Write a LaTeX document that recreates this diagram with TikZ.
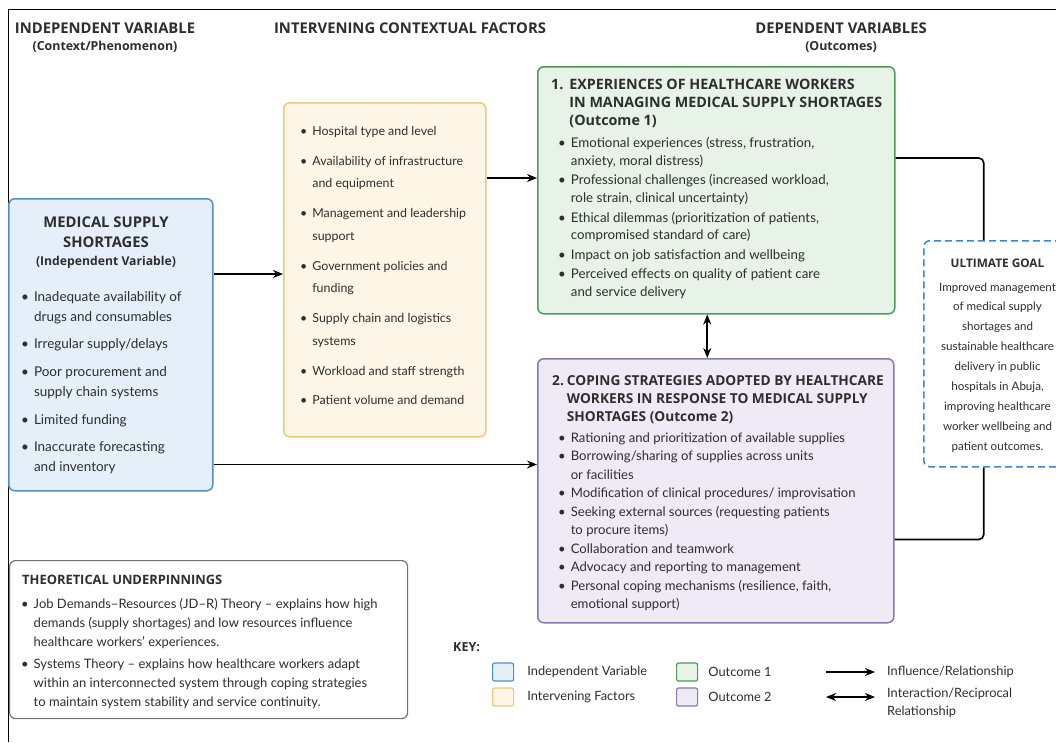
\documentclass[tikz,border=0pt]{standalone}
\usepackage{fontspec}
\setmainfont{Lato}
\newfontfamily\headfont{Open Sans}
\usetikzlibrary{arrows.meta}

\definecolor{ivfill}{HTML}{E4EFF9}
\definecolor{ivline}{HTML}{4F8FCB}
\definecolor{facfill}{HTML}{FDF6E7}
\definecolor{facline}{HTML}{EBC978}
\definecolor{onefill}{HTML}{E7F3E7}
\definecolor{oneline}{HTML}{4C9A5C}
\definecolor{twofill}{HTML}{EFEBF6}
\definecolor{twoline}{HTML}{8C76AE}
\definecolor{goalline}{HTML}{3D88C8}
\definecolor{txt}{HTML}{2E2E2E}

\tikzset{
  box/.style={draw, rounded corners=6pt, line width=1.5pt, anchor=north west, inner sep=0pt},
  ivbox/.style={box, draw=ivline, fill=ivfill},
  facbox/.style={box, draw=facline, fill=facfill},
  onebox/.style={box, draw=oneline, fill=onefill},
  twobox/.style={box, draw=twoline, fill=twofill},
  goalbox/.style={box, draw=goalline, fill=white, dash pattern=on 7pt off 4pt},
  theorybox/.style={box, draw=black!55, fill=white, line width=1.2pt},
  heading/.style={font=\headfont\bfseries\fontsize{14.8}{18}\selectfont, text=txt, inner sep=0pt, anchor=base},
  body/.style={font=\fontsize{13.3}{17.8}\selectfont, text=txt, inner sep=0pt, anchor=base west},
  keytext/.style={body, anchor=west, font=\fontsize{12.8}{17}\selectfont},
  link/.style={line width=1.6pt, -{Stealth[length=10pt,width=8pt]}},
  twoway/.style={line width=1.6pt, {Stealth[length=10pt,width=8pt]}-{Stealth[length=10pt,width=8pt]}},
  tie/.style={line width=1.6pt, rounded corners=5pt},
  swatch/.style={draw, rounded corners=2pt, line width=1.2pt, minimum width=21pt, minimum height=18pt, inner sep=0pt, anchor=west}
}
\newcommand{\bul}{\textbullet}

\begin{document}
\begin{tikzpicture}[x=1pt,y=-1pt]
\useasboundingbox (0,0) rectangle (1056,742);
\fill[white] (0,0) rectangle (1056,742);
\draw[line width=1pt] (8,742) -- (8,9) -- (1056,9);

% Column headings
\node[heading] (hiv) at (105,33) {\begin{tabular}[t]{@{}c@{}}INDEPENDENT VARIABLE\\[-0.5pt]
  \fontsize{12.4}{18}\selectfont(Context/Phenomenon)\end{tabular}};
\node[heading] (hfac) at (410,33) {INTERVENING CONTEXTUAL FACTORS};
\node[heading] (hdep) at (841,33) {\begin{tabular}[t]{@{}c@{}}DEPENDENT VARIABLES\\[-0.5pt]
  \fontsize{12.4}{18}\selectfont(Outcomes)\end{tabular}};

% Boxes
\node[ivbox, minimum width=204, minimum height=292] (iv) at (8,198) {};
\node[facbox, minimum width=202, minimum height=334] (fac) at (283,102) {};
\node[onebox, minimum width=357, minimum height=247] (one) at (537,66) {};
\node[twobox, minimum width=356, minimum height=264] (two) at (537,358) {};
\node[goalbox, minimum width=144, minimum height=226] (goal) at (923,240) {};
\node[theorybox, minimum width=398, minimum height=158] (theory) at (9,560) {};

% Independent variable
\node[heading] (ivtitle) at (106,227) {\begin{tabular}[t]{@{}c@{}}MEDICAL SUPPLY\\[2pt]
  SHORTAGES\\[0.5pt] \fontsize{12.2}{18}\selectfont(Independent Variable)\end{tabular}};
\node[body, font=\fontsize{13.5}{19.7}\selectfont] (ivlist) at (21,301.5) {\begin{tabular}[t]{@{}l@{\hspace{5pt}}l@{}}
\bul & Inadequate availability of\\ & drugs and consumables\\[8pt]
\bul & Irregular supply/delays\\[8pt]
\bul & Poor procurement and\\ & supply chain systems\\[8pt]
\bul & Limited funding\\[8pt]
\bul & Inaccurate forecasting\\ & and inventory
\end{tabular}};

% Intervening factors
\node[body, font=\fontsize{12.4}{22.5}\selectfont] (faclist) at (300,135.5) {\begin{tabular}[t]{@{}l@{\hspace{5pt}}l@{}}
\bul & Hospital type and level\\[7.4pt]
\bul & Availability of infrastructure\\ & and equipment\\[7.4pt]
\bul & Management and leadership\\ & support\\[7.4pt]
\bul & Government policies and\\ & funding\\[7.4pt]
\bul & Supply chain and logistics\\ & systems\\[7.4pt]
\bul & Workload and staff strength\\[7.4pt]
\bul & Patient volume and demand
\end{tabular}};

% Outcome 1
\node[heading, anchor=base west, font=\headfont\bfseries\fontsize{14.3}{18}\selectfont] (onetitle) at (551,89) {\begin{tabular}[t]{@{}l@{\hspace{6pt}}l@{}}
1. & EXPERIENCES OF HEALTHCARE WORKERS\\ & IN MANAGING MEDICAL SUPPLY SHORTAGES\\ & (Outcome 1)
\end{tabular}};
\node[body] (onelist) at (558,147.5) {\begin{tabular}[t]{@{}l@{\hspace{5pt}}l@{}}
\bul & Emotional experiences (stress, frustration,\\ & anxiety, moral distress)\\[1.7pt]
\bul & Professional challenges (increased workload,\\ & role strain, clinical uncertainty)\\[1.7pt]
\bul & Ethical dilemmas (prioritization of patients,\\ & compromised standard of care)\\[1.7pt]
\bul & Impact on job satisfaction and wellbeing\\[1.7pt]
\bul & Perceived effects on quality of patient care\\ & and service delivery
\end{tabular}};

% Outcome 2
\node[heading, anchor=base west, font=\headfont\bfseries\fontsize{13.7}{18}\selectfont] (twotitle) at (552,385) {\begin{tabular}[t]{@{}l@{\hspace{3pt}}l@{}}
2. & COPING STRATEGIES ADOPTED BY HEALTHCARE\\ & WORKERS IN RESPONSE TO MEDICAL SUPPLY\\ & SHORTAGES (Outcome 2)
\end{tabular}};
\node[body, font=\fontsize{13.1}{18.45}\selectfont] (twolist) at (558,442.5) {\begin{tabular}[t]{@{}l@{\hspace{5pt}}l@{}}
\bul & Rationing and prioritization of available supplies\\
\bul & Borrowing/sharing of supplies across units\\ & or facilities\\
\bul & Modification of clinical procedures/ improvisation\\
\bul & Seeking external sources (requesting patients\\ & to procure items)\\
\bul & Collaboration and teamwork\\
\bul & Advocacy and reporting to management\\
\bul & Personal coping mechanisms (resilience, faith,\\ & emotional support)
\end{tabular}};

% Ultimate goal
\node[heading, font=\headfont\bfseries\fontsize{11.8}{18}\selectfont] (goaltitle) at (997.5,267.5) {ULTIMATE GOAL};
\node[body, anchor=base, font=\fontsize{11.6}{19.9}\selectfont] (goaltext) at (997.5,291) {\begin{tabular}[t]{@{}c@{}}
Improved management\\ of medical supply\\ shortages and\\ sustainable healthcare\\ delivery in public\\
hospitals in Abuja,\\ improving healthcare\\ worker wellbeing and\\ patient outcomes.
\end{tabular}};

% Theoretical underpinnings
\node[heading, anchor=base west, font=\headfont\bfseries\fontsize{12.9}{18}\selectfont] (theorytitle) at (22,584) {THEORETICAL UNDERPINNINGS};
\node[body, font=\fontsize{13}{19}\selectfont] (theorylist) at (21,608.5) {\begin{tabular}[t]{@{}l@{\hspace{5pt}}l@{}}
\bul & Job Demands--Resources (JD--R) Theory -- explains how high\\ & demands (supply shortages) and low resources influence\\ & healthcare workers' experiences.\\[3pt]
\bul & Systems Theory -- explains how healthcare workers adapt\\ & within an interconnected system through coping strategies\\ & to maintain system stability and service continuity.
\end{tabular}};

% Connectors
\draw[link] ([yshift=-76pt]iv.north east) -- ([yshift=-76pt]iv.north east -| fac.west);
\draw[link] ([yshift=-76pt]fac.north east) -- ([yshift=-76pt]fac.north east -| one.west);
\draw[link] ([yshift=27pt]iv.south east) -- ([yshift=27pt]iv.south east -| two.west);
\draw[twoway] ([xshift=-9pt]one.south) -- ([xshift=-9pt]one.south |- two.north);
\draw[tie] ([yshift=-92pt]one.north east) -| ([xshift=-12pt]goal.north);
\draw[tie] ([yshift=84pt]two.south east) -| ([xshift=-12pt]goal.south);

% Key
\node[heading, anchor=base west, font=\headfont\bfseries\fontsize{12.5}{18}\selectfont] (keytitle) at (453,651.5) {KEY:};
\node[swatch, draw=ivline, fill=ivfill] (kiv) at (492,672) {};
\node[swatch, draw=facline, fill=facfill] (kfac) at (492,697) {};
\node[swatch, draw=oneline, fill=onefill] (kone) at (676,672) {};
\node[swatch, draw=twoline, fill=twofill] (ktwo) at (676,697) {};
\node[keytext] (kivtxt) at ([xshift=13pt]kiv.east) {Independent Variable};
\node[keytext] (kfactxt) at ([xshift=13pt]kfac.east) {Intervening Factors};
\node[keytext] (konetxt) at ([xshift=10pt]kone.east) {Outcome 1};
\node[keytext] (ktwotxt) at ([xshift=10pt]ktwo.east) {Outcome 2};
\coordinate (kastart) at (826,672);
\coordinate (kbstart) at (826,697);
\node[keytext] (kinfl) at (887,672) {Influence/Relationship};
\node[keytext, anchor=north west, font=\fontsize{12.8}{18}\selectfont, align=left] (kinter) at (887,688) {Interaction/Reciprocal\\Relationship};
\draw[link, line width=1.4pt] (kastart) -- ([xshift=-12pt]kinfl.west);
\draw[twoway, line width=1.4pt] (kbstart) -- ([xshift=-12pt]kbstart -| kinter.west);
\end{tikzpicture}
\end{document}
